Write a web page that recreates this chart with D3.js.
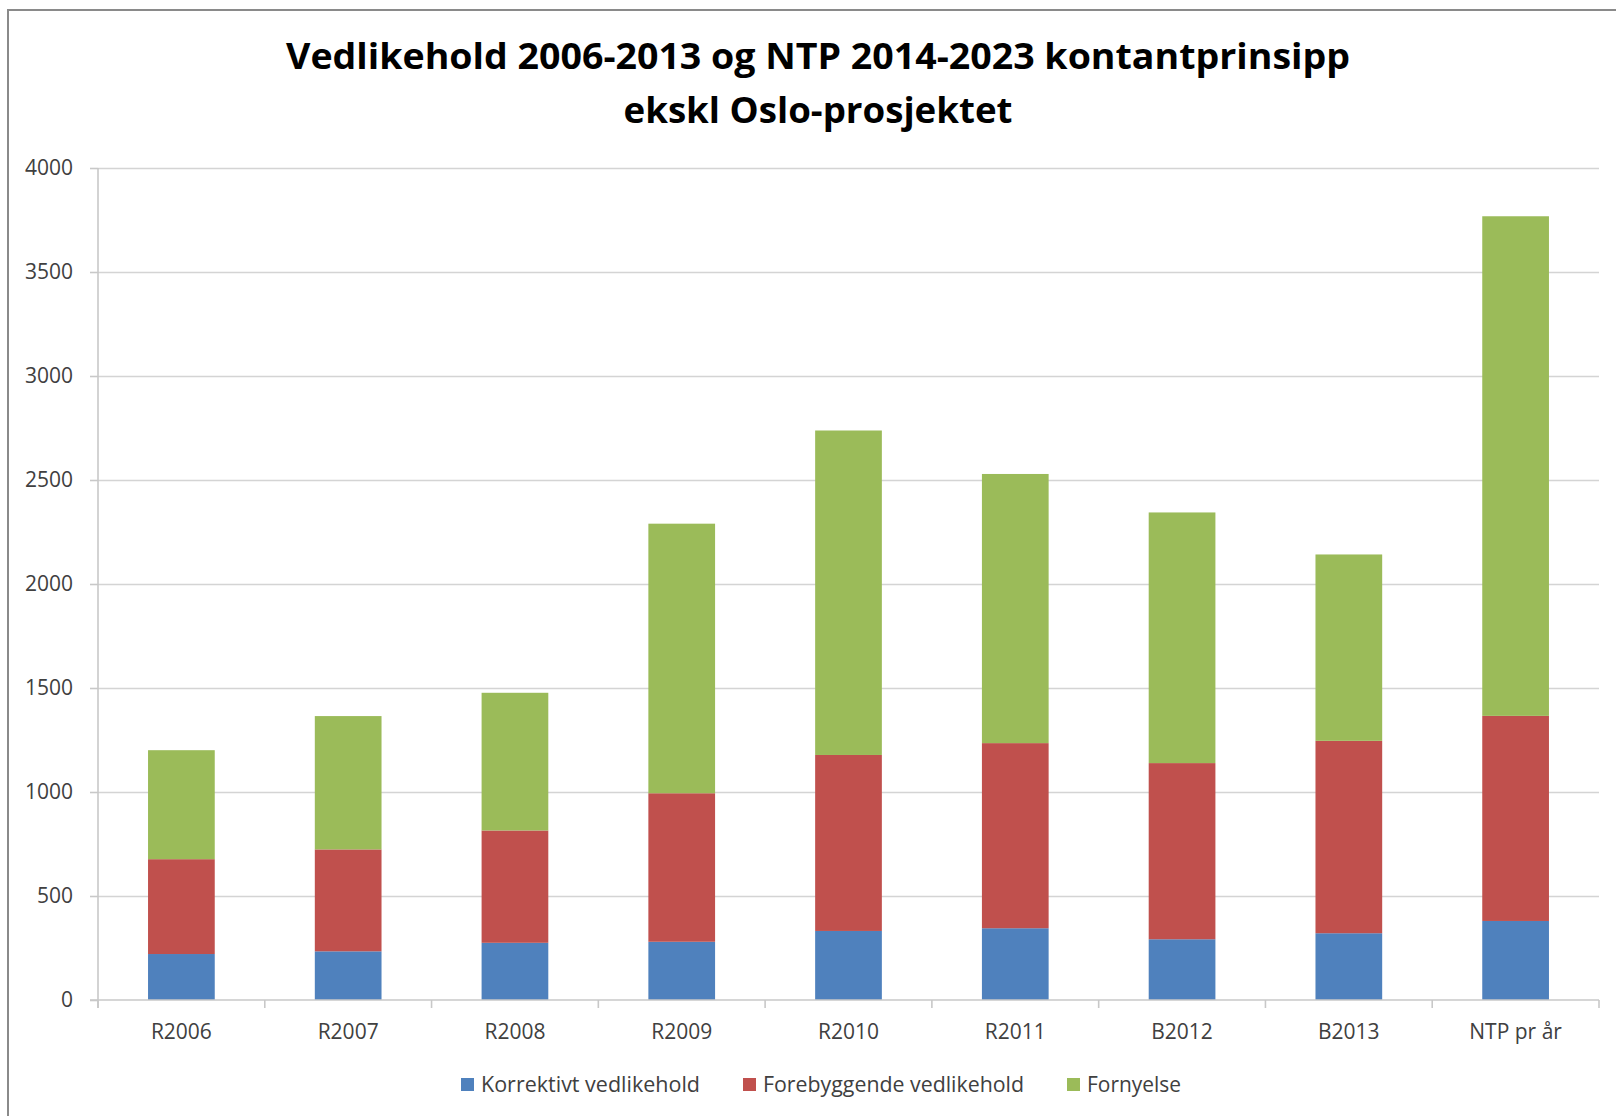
<!DOCTYPE html>
<html>
<head>
<meta charset="utf-8">
<script src="https://cdn.jsdelivr.net/npm/d3@7"></script>
<style>
  html, body { margin: 0; padding: 0; background: #fff; }
  svg { display: block; }
  .tick text { font-family: "Open Sans", sans-serif; font-size: 21px; fill: #404040; }
</style>
</head>
<body>
<svg id="chart" width="1616" height="1116"></svg>
<script>
const categories = ['R2006', 'R2007', 'R2008', 'R2009', 'R2010', 'R2011', 'B2012', 'B2013', 'NTP pr år'];
const korrektivt = [221, 234, 275, 280, 332, 345, 292, 321, 380];
const forebyggende = [456, 490, 540, 714, 846, 890, 847, 925, 986];
const fornyelse = [524, 641, 662, 1296, 1560, 1294, 1205, 896, 2402];
const seriesNames = ['Korrektivt vedlikehold', 'Forebyggende vedlikehold', 'Fornyelse'];
const seriesColors = ['#4f81bd', '#c0504d', '#9bbb59'];
const yTicks = [0, 500, 1000, 1500, 2000, 2500, 3000, 3500, 4000];
const titleLines = ['Vedlikehold 2006-2013 og NTP 2014-2023 kontantprinsipp', 'ekskl Oslo-prosjektet'];

const svg = d3.select('#chart');
const width = 1616;
const margin = { top: 168, right: 17, bottom: 116, left: 98 };
const plotBottom = 1000;

// outer chart frame (runs off the right and bottom edge of the image)
svg.append('rect').attr('x', 8).attr('y', 10).attr('width', 1640).attr('height', 1140)
  .attr('fill', '#fff').attr('stroke', '#8a8a8a').attr('stroke-width', 2);

const x = d3.scaleBand().domain(categories).range([margin.left, width - margin.right]).paddingInner(0.6).paddingOuter(0.3);
const y = d3.scaleLinear().domain([0, 4000]).range([plotBottom, margin.top]);

// gridlines
svg.append('g').attr('transform', `translate(${margin.left},0)`)
  .call(d3.axisLeft(y).tickValues(yTicks.slice(1)).tickSize(-(width - margin.right - margin.left)).tickFormat(''))
  .call((g) => g.select('.domain').remove())
  .call((g) => g.selectAll('line').attr('stroke', '#d4d4d4').attr('stroke-width', 1.6));

// y axis
svg.append('g').attr('transform', `translate(${margin.left},0)`)
  .call(d3.axisLeft(y).tickValues(yTicks).tickSize(8).tickPadding(17).tickFormat(d3.format('d')))
  .call((g) => g.select('.domain').remove())
  .call((g) => g.selectAll('line').attr('stroke', '#c8c8c8').attr('stroke-width', 1.6));
svg.append('line').attr('x1', margin.left).attr('x2', margin.left).attr('y1', y(4000)).attr('y2', plotBottom + 8)
  .attr('stroke', '#c8c8c8').attr('stroke-width', 1.6);

// stacked bars
const rows = categories.map((cat, i) => ({ cat, k: korrektivt[i], f: forebyggende[i], n: fornyelse[i] }));
const stack = d3.stack().keys(['k', 'f', 'n'])(rows);
svg.append('g').selectAll('g').data(stack).join('g')
  .attr('fill', (d, i) => seriesColors[i])
  .selectAll('rect').data((d) => d).join('rect')
  .attr('x', (d) => x(d.data.cat))
  .attr('width', x.bandwidth())
  .attr('y', (d) => y(d[1]))
  .attr('height', (d) => y(d[0]) - y(d[1]));

// x axis line, boundary ticks and labels
svg.append('line').attr('x1', margin.left - 8).attr('x2', width - margin.right).attr('y1', plotBottom).attr('y2', plotBottom)
  .attr('stroke', '#c8c8c8').attr('stroke-width', 1.6);
const step = x.step();
const start = x.range()[0];
svg.append('g').selectAll('line').data(d3.range(categories.length + 1)).join('line')
  .attr('x1', (i) => start + i * step).attr('x2', (i) => start + i * step)
  .attr('y1', plotBottom).attr('y2', plotBottom + 8)
  .attr('stroke', '#c8c8c8').attr('stroke-width', 1.6);
svg.append('g').selectAll('text').data(categories).join('text')
  .attr('x', (d) => x(d) + x.bandwidth() / 2).attr('y', 1039)
  .attr('text-anchor', 'middle')
  .style('font-family', '"Open Sans", sans-serif').style('font-size', '21px').attr('fill', '#404040')
  .text((d) => d);

// title
const titleWidths = [1064, 389];
const titleBaselines = [69, 123];
svg.append('g').selectAll('text').data(titleLines).join('text')
  .attr('x', 818).attr('y', (d, i) => titleBaselines[i])
  .attr('text-anchor', 'middle')
  .attr('textLength', (d, i) => titleWidths[i]).attr('lengthAdjust', 'spacingAndGlyphs')
  .style('font-family', '"Open Sans", sans-serif').style('font-size', '36px').style('font-weight', 700)
  .attr('fill', '#000')
  .text((d) => d);

// legend
const legendX = [461, 743, 1067];
const legendW = [219, 261, 94];
const legend = svg.append('g').selectAll('g').data(seriesNames).join('g')
  .attr('transform', (d, i) => `translate(${legendX[i]},1078)`);
legend.append('rect').attr('width', 13).attr('height', 13).attr('fill', (d, i) => seriesColors[i]);
legend.append('text').attr('x', 20).attr('y', 14)
  .attr('textLength', (d, i) => legendW[i]).attr('lengthAdjust', 'spacingAndGlyphs')
  .style('font-family', '"Open Sans", sans-serif').style('font-size', '21px').attr('fill', '#404040')
  .text((d) => d);
</script>
</body>
</html>
